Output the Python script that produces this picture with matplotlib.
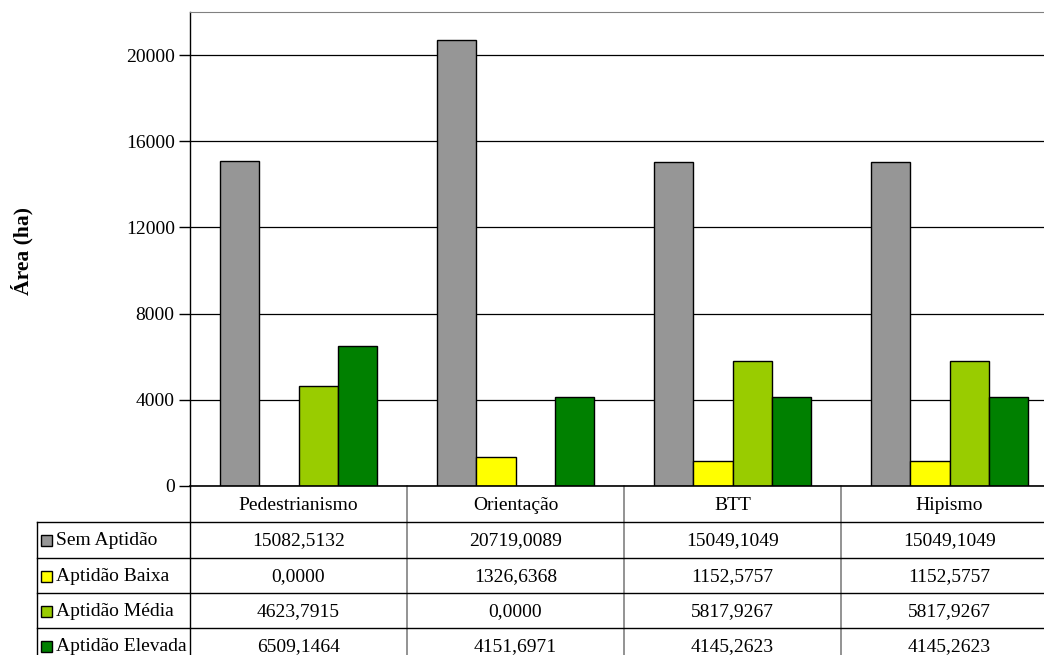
import matplotlib
matplotlib.use("Agg")
import matplotlib.pyplot as plt
import numpy as np
from matplotlib.patches import Rectangle
from matplotlib.transforms import blended_transform_factory

categories = ["Pedestrianismo", "Orientação", "BTT", "Hipismo"]
series_names = ["Sem Aptidão", "Aptidão Baixa", "Aptidão Média", "Aptidão Elevada"]
sem_aptidao = [15082.5132, 20719.0089, 15049.1049, 15049.1049]
aptidao_baixa = [0.0, 1326.6368, 1152.5757, 1152.5757]
aptidao_media = [4623.7915, 0.0, 5817.9267, 5817.9267]
aptidao_elevada = [6509.1464, 4151.6971, 4145.2623, 4145.2623]
series_values = [sem_aptidao, aptidao_baixa, aptidao_media, aptidao_elevada]
colors = ["#969696", "#FFFF00", "#99CC00", "#008000"]
yticks = [0, 4000, 8000, 12000, 16000, 20000]

plt.rcParams['font.family'] = ['Liberation Serif', 'DejaVu Serif']

W, H = 1044, 655
fig = plt.figure(figsize=(W / 100, H / 100), dpi=100)

ax_left, ax_right = 190, 1058
ax_top, ax_bottom = 12, 486
ax = fig.add_axes([ax_left / W, 1 - ax_bottom / H, (ax_right - ax_left) / W, (ax_bottom - ax_top) / H])

FS = 14

x = np.arange(len(categories))
bw = 0.182
for i, (vals, c) in enumerate(zip(series_values, colors)):
    ax.bar(x + (i - 1.5) * bw, vals, width=bw, color=c, edgecolor="black", linewidth=1.0, zorder=3)

ax.set_xlim(-0.5, len(categories) - 0.5)
ax.set_ylim(0, 22000)
ax.set_yticks(yticks)
ax.set_yticklabels([str(t) for t in yticks], fontsize=FS)
ax.tick_params(axis='y', direction='out', length=8, width=1, pad=3)
ax.set_xticks([])
ax.grid(axis='y', color='black', linewidth=0.9, zorder=0)
for s in ['right', 'bottom']:
    ax.spines[s].set_visible(False)
ax.spines['top'].set_color('#808080')
ax.spines['left'].set_linewidth(1.0)
ax.axhline(0, color='black', linewidth=1.2, zorder=4, clip_on=False)

fig.text(22 / W, 1 - 251 / H, "Área (ha)", rotation=90, fontsize=15.5, fontweight='bold',
         ha='center', va='center')

# Data table below the axes
tr = blended_transform_factory(ax.transData, fig.transFigure)
ftr = fig.transFigure
rows_px = [486, 522, 557.5, 593, 628, 663.5]

def fy(p):
    return 1 - p / H

# header category labels
for xi, cat in zip(x, categories):
    ax.text(xi, fy((rows_px[0] + rows_px[1]) / 2 + 1), cat, transform=tr, ha='center', va='center',
            fontsize=FS, clip_on=False)

# vertical dividers between categories
for xb in np.arange(0.5, len(categories) - 0.5, 1.0):
    ax.plot([xb, xb], [fy(rows_px[0]), fy(rows_px[-1])], transform=tr, color='#808080',
            linewidth=1.2, clip_on=False)
# left line of axes extended
fig.add_artist(plt.Line2D([ax_left / W, ax_left / W], [fy(ax_bottom), fy(rows_px[-1])],
                          transform=ftr, color='black', linewidth=1.0))
# left border of row-label column
lab_left = 37
fig.add_artist(plt.Line2D([lab_left / W, lab_left / W], [fy(rows_px[1]), fy(rows_px[-1])],
                          transform=ftr, color='black', linewidth=1.0))
# horizontal row lines
for rp in rows_px[1:-1]:
    fig.add_artist(plt.Line2D([lab_left / W, 1.0], [fy(rp), fy(rp)], transform=ftr,
                              color='black', linewidth=1.0))

# data rows
for r, (name, vals, c) in enumerate(zip(series_names, series_values, colors)):
    yc = (rows_px[r + 1] + rows_px[r + 2]) / 2 + 1
    fig.add_artist(Rectangle((41 / W, fy(yc + 5.5)), 11 / W, 11 / H, transform=ftr,
                             facecolor=c, edgecolor='black', linewidth=1.0))
    fig.text(56 / W, fy(yc), name, fontsize=FS, ha='left', va='center')
    for xi, v in zip(x, vals):
        ax.text(xi, fy(yc), f"{v:.4f}".replace('.', ','), transform=tr, ha='center',
                va='center', fontsize=FS, clip_on=False)

fig.savefig("out.png", dpi=100)
